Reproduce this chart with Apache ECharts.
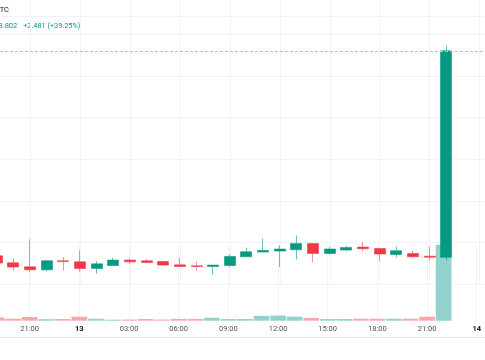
<!DOCTYPE html>
<html>
<head>
<meta charset="utf-8">
<script src="https://cdn.jsdelivr.net/npm/echarts@6/dist/echarts.min.js"></script>
<style>html,body{margin:0;padding:0;background:#fff;overflow:hidden}#c{position:absolute;left:-20.5px;top:-1px;width:508.3px;height:361px}</style>
</head>
<body>
<div id="c"></div>
<script>
// hour index counted from 00:00 on the 12th
const hours  = [19,20,21,22,23,24,25,26,27,28,29,30,31,32,33,34,35,36,37,38,39,40,41,42,43,44,45,46];
const opens  = [6.339,6.255,6.206,6.170,6.279,6.267,6.186,6.222,6.287,6.279,6.270,6.230,6.218,6.210,6.222,6.327,6.384,6.396,6.412,6.488,6.367,6.408,6.444,6.427,6.355,6.367,6.335,6.321];
const closes = [6.251,6.203,6.170,6.279,6.270,6.186,6.242,6.287,6.266,6.258,6.227,6.210,6.210,6.227,6.331,6.388,6.403,6.420,6.488,6.367,6.420,6.440,6.424,6.360,6.400,6.327,6.321,8.802];
const lows   = [6.240,6.161,6.146,6.154,6.161,6.149,6.125,6.215,6.242,6.251,6.222,6.210,6.161,6.113,6.203,6.327,6.384,6.203,6.294,6.263,6.355,6.396,6.396,6.275,6.319,6.315,6.282,6.282];
const highs  = [6.350,6.303,6.536,6.290,6.323,6.408,6.275,6.315,6.303,6.303,6.275,6.315,6.263,6.227,6.355,6.436,6.545,6.464,6.585,6.488,6.448,6.456,6.505,6.427,6.448,6.396,6.448,8.870];
const volumes= [43,26,49,20,22,53,26,13,15,22,15,24,24,39,22,22,64,68,53,37,22,22,26,26,26,26,52,1000];
const tickValues = [21,24,27,30,33,36,39,42,45,48];
const tickLabels = ['21:00','13','03:00','06:00','09:00','12:00','15:00','18:00','21:00','14'];
const symbolText = 'TC';
const lastText = '8.802';
const changeText = '+2.481 (+39.25%)';

const UP = '#089981', DOWN = '#f23645';
const UP_EDGE = 'rgba(8,153,129,0.6)', DOWN_EDGE = 'rgba(242,54,69,0.55)';
const VUP = '#92d2cc', VDOWN = '#f7a9a7';
const GRID = '#f0f3fa';
const OX = 20.5, OY = 1; // chart div offset

const candleData = hours.map((h,i)=>[h, opens[i], closes[i], lows[i], highs[i]]);
const volData = hours.map((h,i)=>({value:[h, volumes[i]], itemStyle:{color: closes[i]>=opens[i]?VUP:VDOWN}}));

function fmt(v){
  const k = tickValues.indexOf(v);
  if (k < 0) return '';
  const t = tickLabels[k];
  return t.indexOf(':')<0 ? '{b|'+t+'}' : t;
}

const chart = echarts.init(document.getElementById('c'), null, {renderer:'canvas'});
chart.setOption({
  animation:false,
  backgroundColor:'#ffffff',
  grid:[
    {left:0, right:0, top:0, bottom:76},
    {left:0, right:0, top:245.7, bottom:39.3}
  ],
  xAxis:[
    {type:'value', gridIndex:0, min:18, max:48.5, interval:3,
     axisLine:{show:false}, axisTick:{show:false}, axisLabel:{show:false},
     splitLine:{show:true, lineStyle:{color:GRID, width:1}}},
    {type:'value', gridIndex:1, min:18, max:48.5, interval:3,
     axisLine:{show:false}, axisTick:{show:false},
     axisLabel:{show:true, margin:4.5, color:'#50535e', fontSize:7.5, fontFamily:'Roboto',
       formatter:fmt, showMinLabel:false,
       rich:{b:{fontWeight:'bold', fontSize:7.5, color:'#131722', fontFamily:'Roboto'}}},
     splitLine:{show:true, lineStyle:{color:GRID, width:1}}}
  ],
  yAxis:[
    {type:'value', gridIndex:0, min:6.0, max:9.4255, interval:0.5,
     axisLine:{show:false}, axisTick:{show:false}, axisLabel:{show:false},
     splitLine:{show:true, lineStyle:{color:GRID, width:1}}},
    {type:'value', gridIndex:1, min:0, max:1000,
     axisLine:{show:false}, axisTick:{show:false}, axisLabel:{show:false},
     splitLine:{show:false}}
  ],
  series:[
    {type:'bar', xAxisIndex:1, yAxisIndex:1, data:volData, barWidth:15.7, z:1},
    {type:'candlestick', xAxisIndex:0, yAxisIndex:0, data:candleData,
     encode:{x:0, y:[1,2,3,4]}, barWidth:11.5, z:3,
     itemStyle:{color:UP, color0:DOWN, borderColor:UP_EDGE, borderColor0:DOWN_EDGE, borderColorDoji:DOWN_EDGE, borderWidth:1},
     markLine:{symbol:['none','none'], silent:true, label:{show:false},
       lineStyle:{type:[3,2], color:'#93d3c8', width:1},
       data:[{yAxis: closes[closes.length-1]}]}
    }
  ],
  graphic:[
    {type:'line', silent:true, shape:{x1:0, y1:OY+16.5, x2:OX+485, y2:OY+16.5}, style:{stroke:GRID, lineWidth:1}},
    {type:'line', silent:true, shape:{x1:0, y1:OY+337.5, x2:OX+485, y2:OY+337.5}, style:{stroke:'#e6e8ee', lineWidth:1}},
    {type:'text', x:OX+8.5, y:OY+10, style:{text:symbolText, align:'right', verticalAlign:'middle', fill:'#131722', font:'7.5px Roboto'}},
    {type:'text', x:OX+16.8, y:OY+26, style:{text:lastText, align:'right', verticalAlign:'middle', fill:UP, font:'7.5px Roboto'}},
    {type:'text', x:OX+22.7, y:OY+26, style:{text:changeText, align:'left', verticalAlign:'middle', fill:UP, font:'7.3px Roboto'}}
  ]
});
</script>
</body>
</html>
